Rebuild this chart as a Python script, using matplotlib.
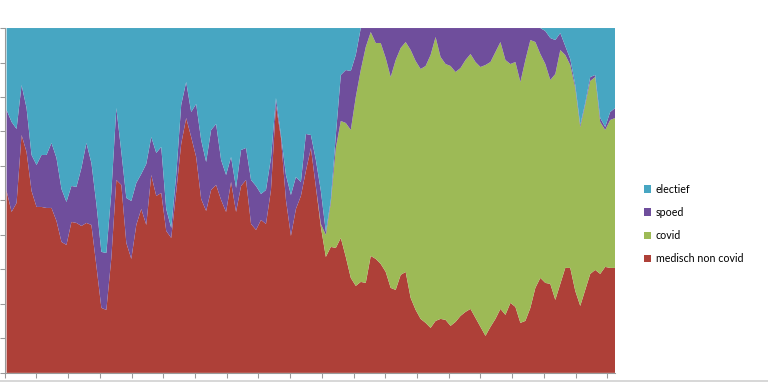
import numpy as np
import matplotlib
matplotlib.use("Agg")
import matplotlib.pyplot as plt
from matplotlib.patches import Patch
from matplotlib.lines import Line2D

# daily values (shares, drawn as 100% stacked area)
medisch = [182, 161, 170, 238, 221, 182, 166, 166, 165, 165, 152, 131, 128, 151, 150, 147, 150, 148, 107, 65,
           63, 115, 193, 188, 130, 114, 148, 164, 148, 198, 177, 180, 142, 135, 181, 229, 255, 236, 216, 174,
           162, 183, 188, 173, 161, 191, 161, 187, 193, 149, 143, 153, 149, 183, 268, 235, 173, 137, 164, 177,
           202, 225, 186, 146, 116, 126, 125, 135, 116, 95, 87, 91, 90, 117, 114, 109, 101, 85, 83, 98,
           101, 75, 63, 54, 50, 45, 52, 54, 53, 47, 51, 57, 61, 64, 55, 46, 37, 46, 54, 64,
           58, 70, 66, 50, 52, 65, 85, 95, 90, 89, 73, 89, 105, 105, 82, 67, 83, 99, 103, 99,
           106, 105, 105]
covid = [0, 0, 0, 0, 0, 0, 0, 0, 0, 0, 0, 0, 0, 0, 0, 0, 0, 0, 0, 0,
         0, 0, 0, 0, 0, 0, 0, 0, 0, 0, 0, 0, 0, 0, 0, 0, 0, 0, 0, 0,
         0, 0, 0, 0, 0, 0, 0, 0, 0, 0, 0, 0, 0, 0, 0, 0, 0, 0, 0, 0,
         0, 0, 0, 3, 22, 44, 100, 117, 134, 148, 189, 212, 236, 224, 216, 221, 214, 211, 230, 227,
         230, 248, 249, 250, 257, 273, 284, 262, 256, 260, 250, 248, 252, 255, 256, 260, 271, 265, 267, 267,
         255, 239, 245, 241, 261, 268, 246, 224, 219, 204, 226, 234, 213, 203, 203, 179, 185, 193, 193, 152,
         137, 148, 150]
spoed = [81, 90, 74, 50, 44, 36, 42, 52, 53, 65, 63, 53, 43, 36, 36, 58, 80, 62, 62, 56,
         57, 66, 72, 33, 45, 58, 42, 35, 61, 38, 43, 46, 22, 10, 17, 39, 36, 25, 53, 59,
         49, 60, 61, 40, 37, 25, 24, 36, 32, 44, 44, 26, 34, 32, 7, 3, 25, 41, 32, 14,
         37, 13, 27, 33, 3, 3, 13, 46, 53, 59, 42, 42, 19, 4, 15, 15, 30, 49, 32, 20,
         14, 22, 33, 41, 38, 27, 9, 29, 36, 38, 44, 40, 32, 26, 34, 39, 37, 34, 24, 14,
         32, 36, 34, 54, 32, 12, 14, 26, 33, 42, 34, 17, 9, 6, 3, 2, 2, 4, 2, 4,
         3, 8, 10]
electief = [82, 94, 101, 57, 80, 127, 137, 127, 127, 115, 130, 161, 174, 158, 159, 140, 115, 135, 176, 224,
            225, 164, 80, 124, 170, 173, 155, 146, 136, 109, 125, 119, 181, 200, 147, 77, 54, 84, 76, 112,
            134, 102, 96, 132, 147, 129, 160, 122, 120, 152, 158, 166, 162, 130, 70, 107, 147, 167, 149, 154,
            106, 107, 132, 163, 204, 172, 107, 47, 42, 43, 27, 0, 0, 0, 0, 0, 0, 0, 0, 0,
            0, 0, 0, 0, 0, 0, 0, 0, 0, 0, 0, 0, 0, 0, 0, 0, 0, 0, 0, 0,
            0, 0, 0, 0, 0, 0, 0, 0, 3, 10, 12, 5, 18, 31, 57, 97, 75, 49, 47, 90,
            99, 84, 80]

labels = ["medisch non covid", "covid", "spoed", "electief"]
colors = ["#AE4038", "#9DBA56", "#6F4E9C", "#47A6C2"]

data = np.array([medisch, covid, spoed, electief], dtype=float)
pct = data / data.sum(axis=0) * 100
days = np.arange(data.shape[1])

fig = plt.figure(figsize=(8, 4), dpi=96)
ax = fig.add_axes([0.006, 0.029, 0.795, 0.898])
ax.stackplot(days, pct, colors=colors, linewidth=0)

ax.set_xlim(-0.4, days[-1])
ax.set_ylim(0, 100)
ax.set_yticks(np.arange(0, 101, 10))
ax.set_xticks(np.arange(20) * 6.36 - 0.4)
ax.set_xticklabels([])
ax.set_yticklabels([])
ax.tick_params(direction="out", length=4, width=0.8, color="#9a9a9a")
for s in ["right", "top"]:
    ax.spines[s].set_visible(False)
for s in ["left", "bottom"]:
    ax.spines[s].set_color("#9a9a9a")
    ax.spines[s].set_linewidth(0.8)

plt.rcParams["font.family"] = ["Lato", "DejaVu Sans"]
handles = [Patch(facecolor=colors[i], edgecolor="none", label=labels[i]) for i in [3, 2, 1, 0]]
fig.legend(handles=handles, loc="center left", bbox_to_anchor=(644 / 768, 1 - 224 / 384),
           frameon=False, fontsize=8, handlelength=0.7, handleheight=0.7,
           handletextpad=0.4, labelspacing=1.15, borderpad=0, borderaxespad=0)

fig.add_artist(Line2D([0, 1], [0.008, 0.008], color="#d8d8d8", linewidth=1.5, transform=fig.transFigure))

fig.savefig("out.png", dpi=96)
